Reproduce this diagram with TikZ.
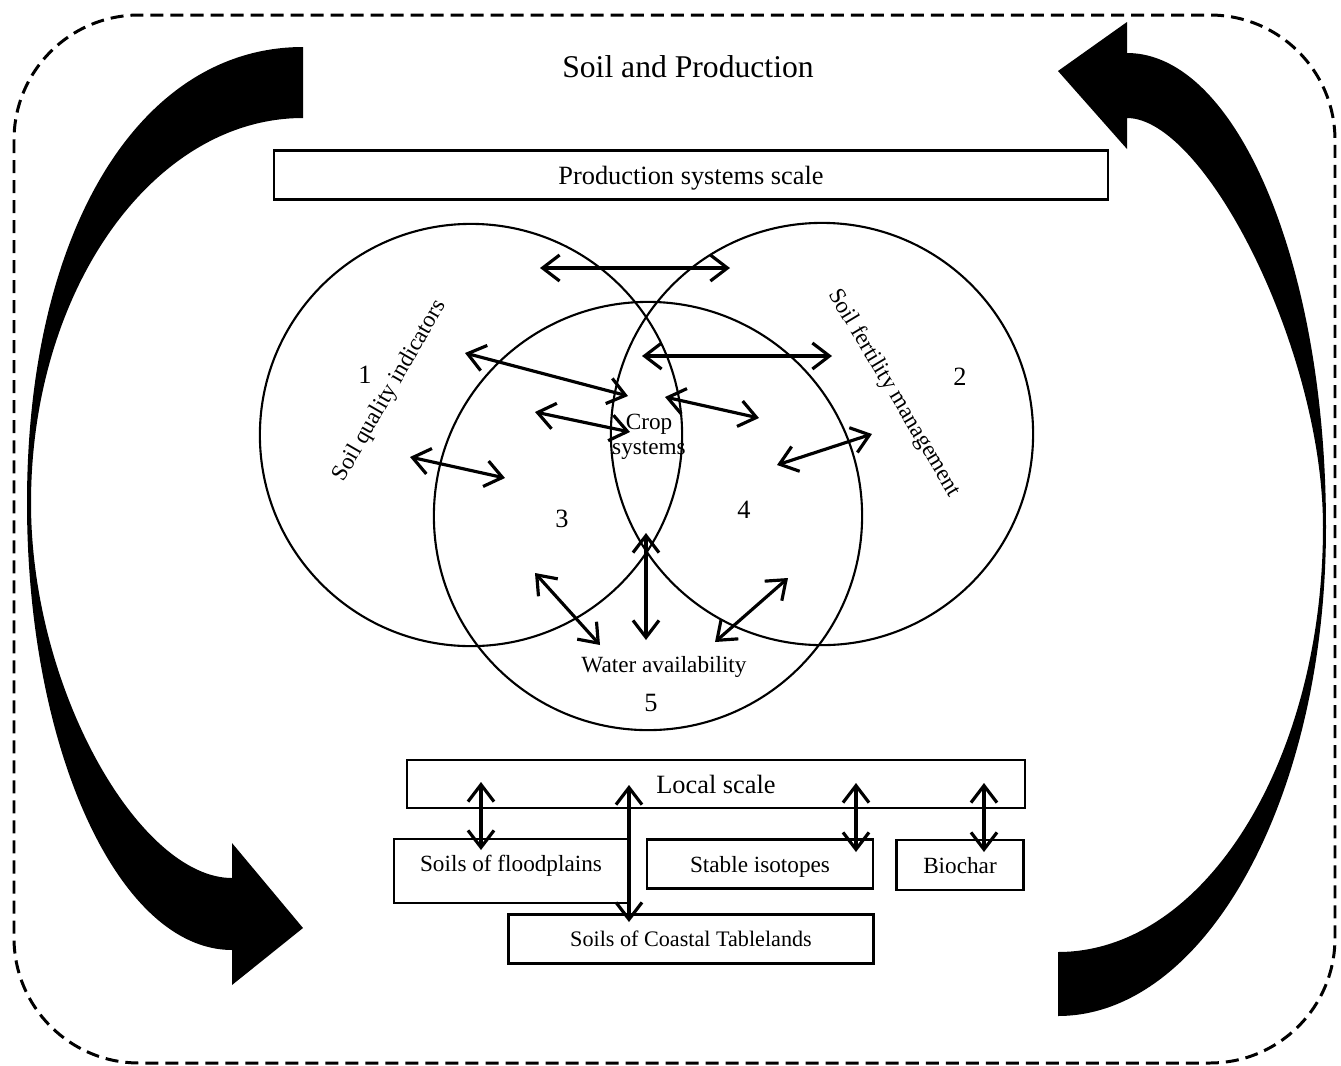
\documentclass[tikz,border=0pt]{standalone}
\usepackage{fontspec}
\setmainfont{Liberation Serif}
\usetikzlibrary{arrows.meta}
\tikzset{
  ring/.style={circle,draw,line width=0.6pt,minimum size=4.22cm,inner sep=0pt},
  scalebox/.style={rectangle,draw,line width=0.7pt,inner sep=0pt,text depth=0pt,font=\fontsize{7.5}{9}\selectfont},
  sitebox/.style={rectangle,draw,line width=0.7pt,inner sep=0pt,text depth=0pt,font=\fontsize{6.6}{8}\selectfont},
  twoway/.style={line width=0.9pt,{Straight Barb[length=1.7mm,width=2.6mm]}-{Straight Barb[length=1.7mm,width=2.6mm]}},
  smalltext/.style={inner sep=0pt,font=\fontsize{6.6}{7.1}\selectfont},
  num/.style={inner sep=0pt,font=\fontsize{7.5}{9}\selectfont},
}

\begin{document}
\begin{tikzpicture}[x=0.01cm,y=-0.01cm]
  \useasboundingbox (0,0) rectangle (1341,1066);
  % outer frame
  \draw[dash pattern=on 1.3mm off 0.7mm,line width=0.85pt,rounded corners=1.25cm] (14,15) rectangle (1335,1063);
  \node[inner sep=0pt,font=\fontsize{9}{11}\selectfont] (title) at (688,67) {Soil and Production};

  % big curved arrows
  \fill (303,47) .. controls (140,47) and (27,230) .. (27,503)
    .. controls (27,750) and (119,950) .. (232,950)
    -- (232,985) -- (303,928) -- (232,843) -- (232,878)
    .. controls (140,878) and (31,690) .. (31,503)
    .. controls (31,290) and (153,118) .. (303,118) -- cycle;
  \fill (1058,1016) .. controls (1206,1016) and (1326,797) .. (1326,527)
    .. controls (1326,265) and (1237,53) .. (1127,53)
    -- (1127,22) -- (1058,71) -- (1127,149) -- (1127,118)
    .. controls (1205,118) and (1323,350) .. (1323,527)
    .. controls (1323,760) and (1205,952) .. (1058,952) -- cycle;

  % scales
  \node[scalebox,minimum width=8.34cm,minimum height=0.49cm] (prodscale) at (691,175) {Production systems scale};
  \node[scalebox,minimum width=6.18cm,minimum height=0.48cm] (localscale) at (716,784) {Local scale};

  % circles
  \node[ring] (c1) at (471,435) {};
  \node[ring] (c2) at (822,434) {};
  \node[ring,minimum size=4.28cm] (c3) at (648,516) {};

  \node[num] (n1) at (365,375) {1};
  \node[num] (n2) at (960,377) {2};
  \node[num] (n3) at (562,519) {3};
  \node[num] (n4) at (744,510) {4};
  \node[num] (n5) at (651,703) {5};
  \node[smalltext,rotate=60] (sqi) at (390,391) {Soil quality indicators};
  \node[smalltext,rotate=-59] (sfm) at (894,393) {Soil fertility management};
  \node[smalltext,align=center] (crop) at (649,437) {Crop\\systems};
  \node[smalltext] (water) at (664,667) {Water availability};

  % arrow ends
  \coordinate (q1a) at (540,268);  \coordinate (q1b) at (730,268);
  \coordinate (q2a) at (465,353);  \coordinate (q2b) at (628,396);
  \coordinate (q3a) at (535,412);  \coordinate (q3b) at (630,432);
  \coordinate (q4a) at (410,457);  \coordinate (q4b) at (505,478);
  \coordinate (q5a) at (642,356);  \coordinate (q5b) at (832,356);
  \coordinate (q6a) at (665,397);  \coordinate (q6b) at (759,418);
  \coordinate (q7a) at (777,465);  \coordinate (q7b) at (872,434);
  \coordinate (q8a) at (646,533);  \coordinate (q8b) at (646,640);
  \coordinate (q9a) at (535,573);  \coordinate (q9b) at (600,645);
  \coordinate (q10a) at (788,578); \coordinate (q10b) at (715,642);

  \draw[twoway] (q1a) -- (q1b);
  \draw[twoway] (q2a) -- (q2b);
  \draw[twoway] (q3a) -- (q3b);
  \draw[twoway] (q4a) -- (q4b);
  \draw[twoway] (q5a) -- (q5b);
  \draw[twoway] (q6a) -- (q6b);
  \draw[twoway] (q7a) -- (q7b);
  \draw[twoway] (q8a) -- (q8b);
  \draw[twoway] (q9a) -- (q9b);
  \draw[twoway] (q10a) -- (q10b);

  % local boxes
  \node[sitebox,minimum width=2.34cm,minimum height=0.64cm,text depth=0.9ex] (flood) at (511,871) {Soils of floodplains};
  \node[sitebox,minimum width=2.26cm,minimum height=0.49cm] (isotope) at (760,864) {Stable isotopes};
  \node[sitebox,minimum width=1.27cm,minimum height=0.50cm] (biochar) at (960,865) {Biochar};
  \node[sitebox,minimum width=3.65cm,minimum height=0.49cm,font=\fontsize{6.3}{8}\selectfont] (coastal) at (691,939) {Soils of Coastal Tablelands};

  \coordinate (la) at (481,782); \coordinate (lb) at (481,850);
  \coordinate (ma) at (629,785); \coordinate (mb) at (629,922);
  \coordinate (ra) at (856,783); \coordinate (rb) at (856,852);
  \coordinate (sa) at (984,783); \coordinate (sb) at (984,852);

  \draw[twoway] (la) -- (lb);
  \draw[twoway] (ma) -- (mb);
  \draw[twoway] (ra) -- (rb);
  \draw[twoway] (sa) -- (sb);
\end{tikzpicture}
\end{document}
